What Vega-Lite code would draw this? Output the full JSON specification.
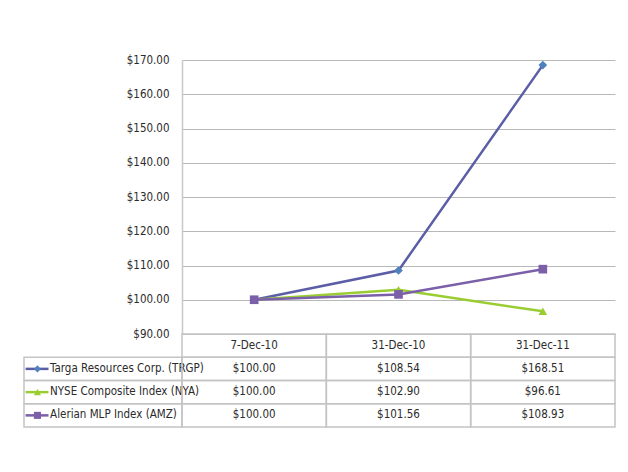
{
  "$schema": "https://vega.github.io/schema/vega-lite/v6.json",
  "padding": {"left": 23, "top": 54, "right": 5, "bottom": 5},
  "background": "white",
  "config": {
    "view": {"stroke": null},
    "font": "Liberation Sans Narrow, DejaVu Sans Condensed, Roboto Condensed, Arial Narrow, sans-serif",
    "text": {"fontSize": 11.5, "color": "#2b2b2b"},
    "axis": {"labelFontSize": 11.5, "labelColor": "#2b2b2b"}
  },
  "datasets": {
    "d": [
      {"series": "Targa Resources Corp. (TRGP)", "date": "7-Dec-10", "value": 100.00},
      {"series": "Targa Resources Corp. (TRGP)", "date": "31-Dec-10", "value": 108.54},
      {"series": "Targa Resources Corp. (TRGP)", "date": "31-Dec-11", "value": 168.51},
      {"series": "NYSE Composite Index (NYA)", "date": "7-Dec-10", "value": 100.00},
      {"series": "NYSE Composite Index (NYA)", "date": "31-Dec-10", "value": 102.90},
      {"series": "NYSE Composite Index (NYA)", "date": "31-Dec-11", "value": 96.61},
      {"series": "Alerian MLP Index (AMZ)", "date": "7-Dec-10", "value": 100.00},
      {"series": "Alerian MLP Index (AMZ)", "date": "31-Dec-10", "value": 101.56},
      {"series": "Alerian MLP Index (AMZ)", "date": "31-Dec-11", "value": 108.93}
    ]
  },
  "columns": 2,
  "spacing": 0,
  "bounds": "flush",
  "align": "each",
  "resolve": {"scale": {"x": "independent", "y": "independent"}},
  "concat": [
    {
      "width": 158,
      "height": 274,
      "data": {"values": [{}]},
      "mark": {"type": "text", "text": ""},
      "encoding": {}
    },
    {
      "width": 433,
      "height": 274,
      "data": {"name": "d"},
      "encoding": {
        "x": {"field": "date", "type": "nominal", "axis": null,
              "scale": {"type": "point", "padding": 0.5, "domain": ["7-Dec-10", "31-Dec-10", "31-Dec-11"]}},
        "y": {"field": "value", "type": "quantitative",
              "scale": {"domain": [90, 170], "nice": false, "zero": false},
              "axis": {"values": [90, 100, 110, 120, 130, 140, 150, 160, 170], "format": "$,.2f", "title": null,
                       "grid": true, "gridColor": "#B8B8B8", "gridWidth": 1, "ticks": false,
                       "domainColor": "#C8C8C8", "domainWidth": 1.5, "labelPadding": 13}}
      },
      "layer": [
        {
          "mark": {"type": "line", "strokeWidth": 2.5},
          "encoding": {
            "stroke": {"field": "series", "type": "nominal", "legend": null,
                       "scale": {"domain": ["Targa Resources Corp. (TRGP)", "NYSE Composite Index (NYA)", "Alerian MLP Index (AMZ)"],
                                 "range": ["#5B5EA6", "#9ACD32", "#7B5FA8"]}},
            "order": {"field": "series", "sort": "descending"}
          }
        },
        {
          "mark": {"type": "point", "filled": true, "opacity": 1},
          "encoding": {
            "fill": {"field": "series", "type": "nominal", "legend": null,
                     "scale": {"domain": ["Targa Resources Corp. (TRGP)", "NYSE Composite Index (NYA)", "Alerian MLP Index (AMZ)"],
                               "range": ["#4F81BD", "#9ACD32", "#7B5FA8"]}},
            "shape": {"field": "series", "type": "nominal", "legend": null,
                      "scale": {"domain": ["Targa Resources Corp. (TRGP)", "NYSE Composite Index (NYA)", "Alerian MLP Index (AMZ)"],
                                "range": ["diamond", "triangle-up", "square"]}},
            "size": {"value": 75}
          }
        }
      ]
    },
    {
      "width": 158,
      "height": 93,
      "data": {"name": "d"},
      "transform": [{"filter": "datum.date == '7-Dec-10'"}],
      "encoding": {
        "y": {"field": "series", "type": "nominal", "axis": null,
              "scale": {"type": "band", "paddingInner": 0, "paddingOuter": 0,
                        "domain": ["hdr", "Targa Resources Corp. (TRGP)", "NYSE Composite Index (NYA)", "Alerian MLP Index (AMZ)"]}}
      },
      "layer": [
        {
          "mark": {"type": "rect", "filled": false, "stroke": "#C4C4C4", "strokeWidth": 1.5},
          "encoding": {
            "x": {"datum": 0, "type": "quantitative", "axis": null, "scale": {"domain": [0, 1], "nice": false, "zero": false}},
            "x2": {"datum": 1}
          }
        },
        {
          "mark": {"type": "rule", "strokeWidth": 2.5},
          "encoding": {
            "x": {"datum": 0.01, "type": "quantitative"},
            "x2": {"datum": 0.155},
            "stroke": {"field": "series", "type": "nominal", "legend": null}
          }
        },
        {
          "mark": {"type": "point", "filled": true, "opacity": 1},
          "encoding": {
            "x": {"datum": 0.085, "type": "quantitative"},
            "fill": {"field": "series", "type": "nominal", "legend": null},
            "shape": {"field": "series", "type": "nominal", "legend": null},
            "size": {"value": 50}
          }
        },
        {
          "mark": {"type": "text", "align": "left"},
          "encoding": {
            "x": {"datum": 0.165, "type": "quantitative"},
            "text": {"field": "series"}
          }
        }
      ]
    },
    {
      "width": 433,
      "height": 93,
      "data": {"name": "d"},
      "encoding": {
        "x": {"field": "date", "type": "nominal", "axis": null,
              "scale": {"type": "band", "paddingInner": 0, "paddingOuter": 0, "domain": ["7-Dec-10", "31-Dec-10", "31-Dec-11"]}},
        "y": {"field": "series", "type": "nominal", "axis": null,
              "scale": {"type": "band", "paddingInner": 0, "paddingOuter": 0,
                        "domain": ["hdr", "Targa Resources Corp. (TRGP)", "NYSE Composite Index (NYA)", "Alerian MLP Index (AMZ)"]}}
      },
      "layer": [
        {
          "mark": {"type": "rect", "filled": false, "stroke": "#C4C4C4", "strokeWidth": 1.5}
        },
        {
          "transform": [{"filter": "datum.series == 'Targa Resources Corp. (TRGP)'"}],
          "mark": {"type": "rect", "filled": false, "stroke": "#C4C4C4", "strokeWidth": 1.5},
          "encoding": {"y": {"datum": "hdr", "type": "nominal"}}
        },
        {
          "mark": {"type": "text"},
          "encoding": {"text": {"field": "value", "type": "quantitative", "format": "$,.2f"}}
        },
        {
          "transform": [{"filter": "datum.series == 'Targa Resources Corp. (TRGP)'"}],
          "mark": {"type": "text"},
          "encoding": {"y": {"datum": "hdr", "type": "nominal"}, "text": {"field": "date"}}
        }
      ]
    }
  ]
}
